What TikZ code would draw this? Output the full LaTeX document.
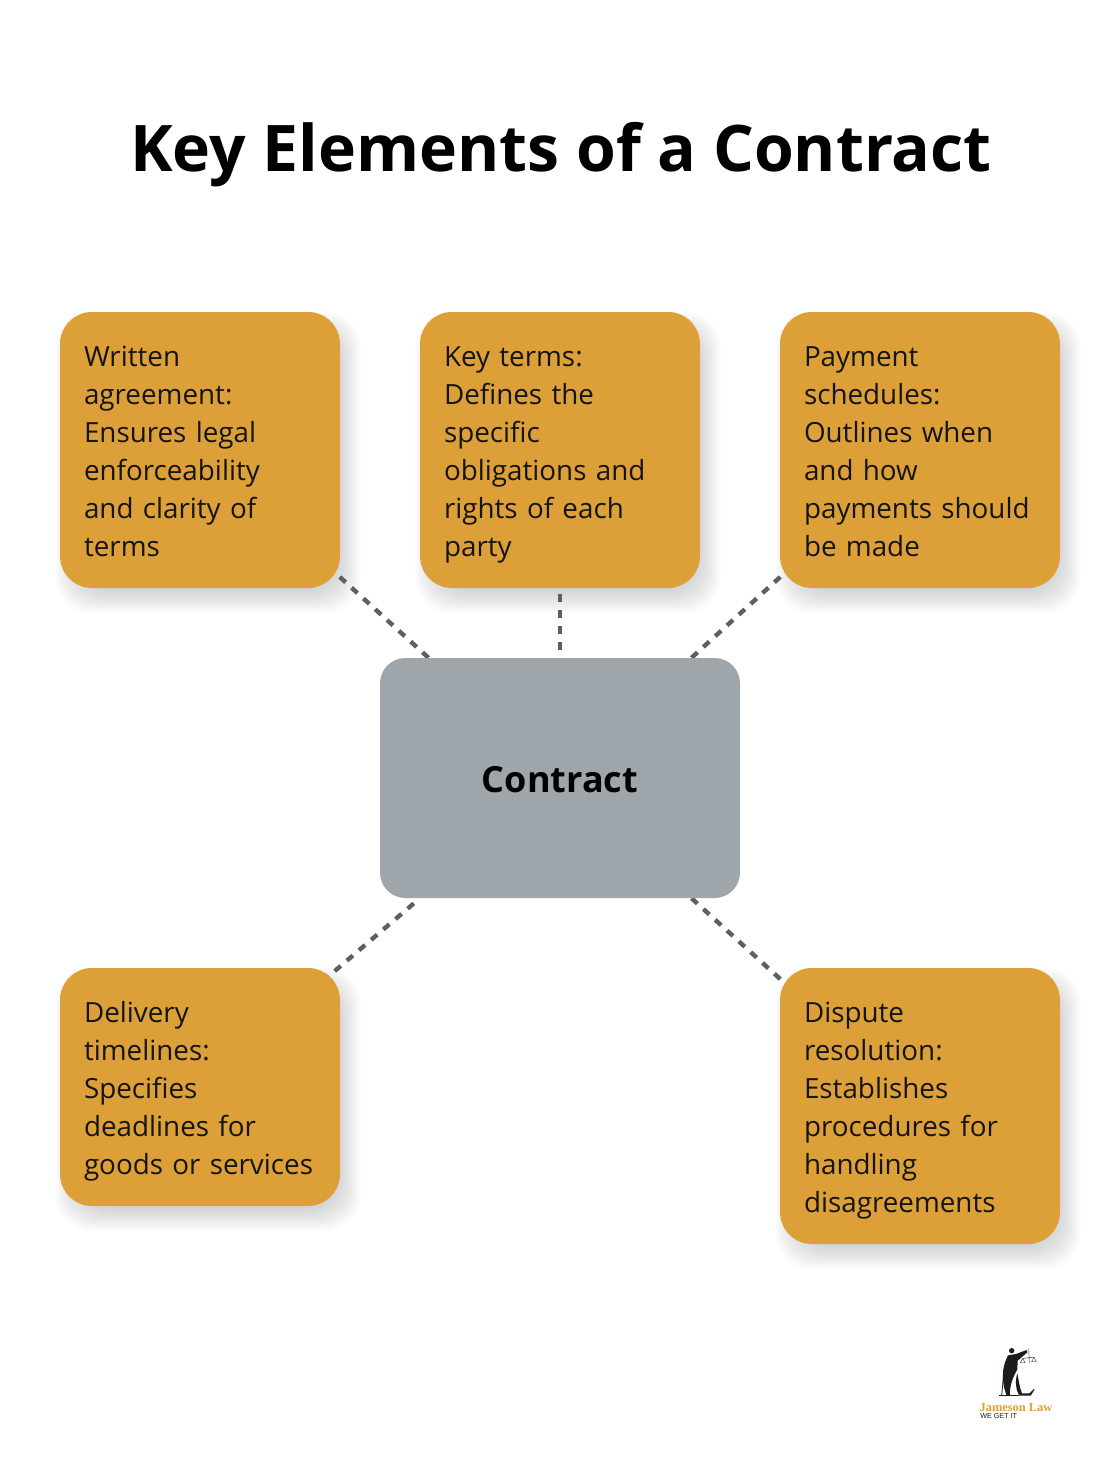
\documentclass[tikz,border=0pt]{standalone}
\usepackage{fontspec}
\setmainfont{Open Sans}
\newfontfamily\logoserif{Liberation Serif}
\newfontfamily\logosans{Liberation Sans}
\usetikzlibrary{backgrounds}
\definecolor{boxgold}{HTML}{DDA038}
\definecolor{hubgrey}{HTML}{9FA6AB}
\definecolor{linkgrey}{HTML}{5F5F5F}
\definecolor{logoink}{HTML}{1E1B1A}
\definecolor{shadowtint}{HTML}{30303C}
\tikzset{
  shadowlayer/.style={fill=shadowtint,fill opacity=.021,rounded corners=26pt},
  itembox/.style={fill=boxgold,rounded corners=24pt,minimum width=210pt,text width=174pt,
    inner xsep=18pt,inner ysep=0pt,align=left,font=\fontsize{20.85}{28.5}\selectfont,text=black!92,
    execute at begin node=\rule{0pt}{22pt},execute at end node=\rule[-5.5pt]{0pt}{5.5pt}},
  hubbox/.style={fill=hubgrey,rounded corners=19pt,minimum width=270pt,minimum height=180pt,
    text height=21pt,text depth=0pt,font=\fontsize{27}{32}\selectfont\bfseries},
  linkline/.style={draw=linkgrey,line width=3.3pt,dash pattern=on 6pt off 6pt,dash phase=0pt,shorten >=-24pt}
}
\begin{document}
\begin{tikzpicture}[x=.75pt,y=-.75pt]
\useasboundingbox (0,0) rectangle (1120,1484);
\node (title) at (561,155) {\fontsize{48.2}{58}\selectfont\bfseries Key Elements of a Contract};
\node[hubbox] (contract) at (560,778) {Contract};
\node[itembox,minimum height=207pt] (written) at (200,450) {Written\\agreement:\\Ensures legal\\enforceability\\and clarity of\\terms};
\node[itembox,minimum height=207pt] (keyterms) at (560,450) {Key terms:\\Defines the\\specific\\obligations and\\rights of each\\party};
\node[itembox,minimum height=207pt] (payment) at (920,450) {Payment\\schedules:\\Outlines when\\and how\\payments should\\be made};
\node[itembox,minimum height=178.5pt] (delivery) at (200,1087) {Delivery\\timelines:\\Specifies\\deadlines for\\goods or services};
\node[itembox,minimum height=207pt] (dispute) at (920,1106) {Dispute\\resolution:\\Establishes\\procedures for\\handling\\disagreements};
\begin{pgfonlayer}{background}
% soft shadows
\foreach \nm in {written,keyterms,payment,delivery,dispute}
  \foreach \g in {-10,-8,...,12}
    \fill[shadowlayer] ([shift={(8-\g,12-\g)}]\nm.north west) rectangle ([shift={(8+\g,12+\g)}]\nm.south east);
\draw[linkline] (contract) -- (written);
\draw[linkline,dash phase=6pt] (contract) -- (keyterms);
\draw[linkline] (contract) -- (payment);
\draw[linkline,dash phase=6pt] (contract) -- (delivery);
\draw[linkline] (contract) -- (dispute);
\end{pgfonlayer}
% logo
\begin{scope}[shift={(960,1330)},x=.25pt,y=-.25pt]
\fill[logoink] (155,62) circle (8);
\fill[logoink] (144,76) .. controls (126,110) and (122,150) .. (140,197) -- (150,197) .. controls (148,165) and (160,140) .. (172,118) -- (173,92) -- (202,67) -- (200,60) -- (168,72) -- cycle;
\fill[logoink] (172,130) .. controls (164,155) and (168,180) .. (178,197) -- (212,197) -- (224,178) -- (222,177) -- (208,190) -- (186,190) .. controls (178,170) and (176,150) .. (172,130);
\draw[logoink,line width=.6pt] (131,130) -- (125,197);
\draw[logoink,line width=.3pt] (206,55) -- (208,98) (188,85) -- (222,82);
\draw[logoink,line width=.25pt] (188,85) -- (181,98) -- (195,98) -- cycle (222,82) -- (215,95) -- (229,95) -- cycle;
\draw[logoink,line width=.6pt] (118,197) -- (178,197);
\end{scope}
\node[inner sep=0pt,text=boxgold] (logoname) at (1016,1407) {\logoserif\fontsize{9.3}{10}\selectfont\bfseries Jameson Law};
\node[inner sep=0pt,text=logoink,anchor=west] (logotag) at (980,1416) {\logosans\fontsize{5.4}{6}\selectfont WE GET IT};
\end{tikzpicture}
\end{document}
